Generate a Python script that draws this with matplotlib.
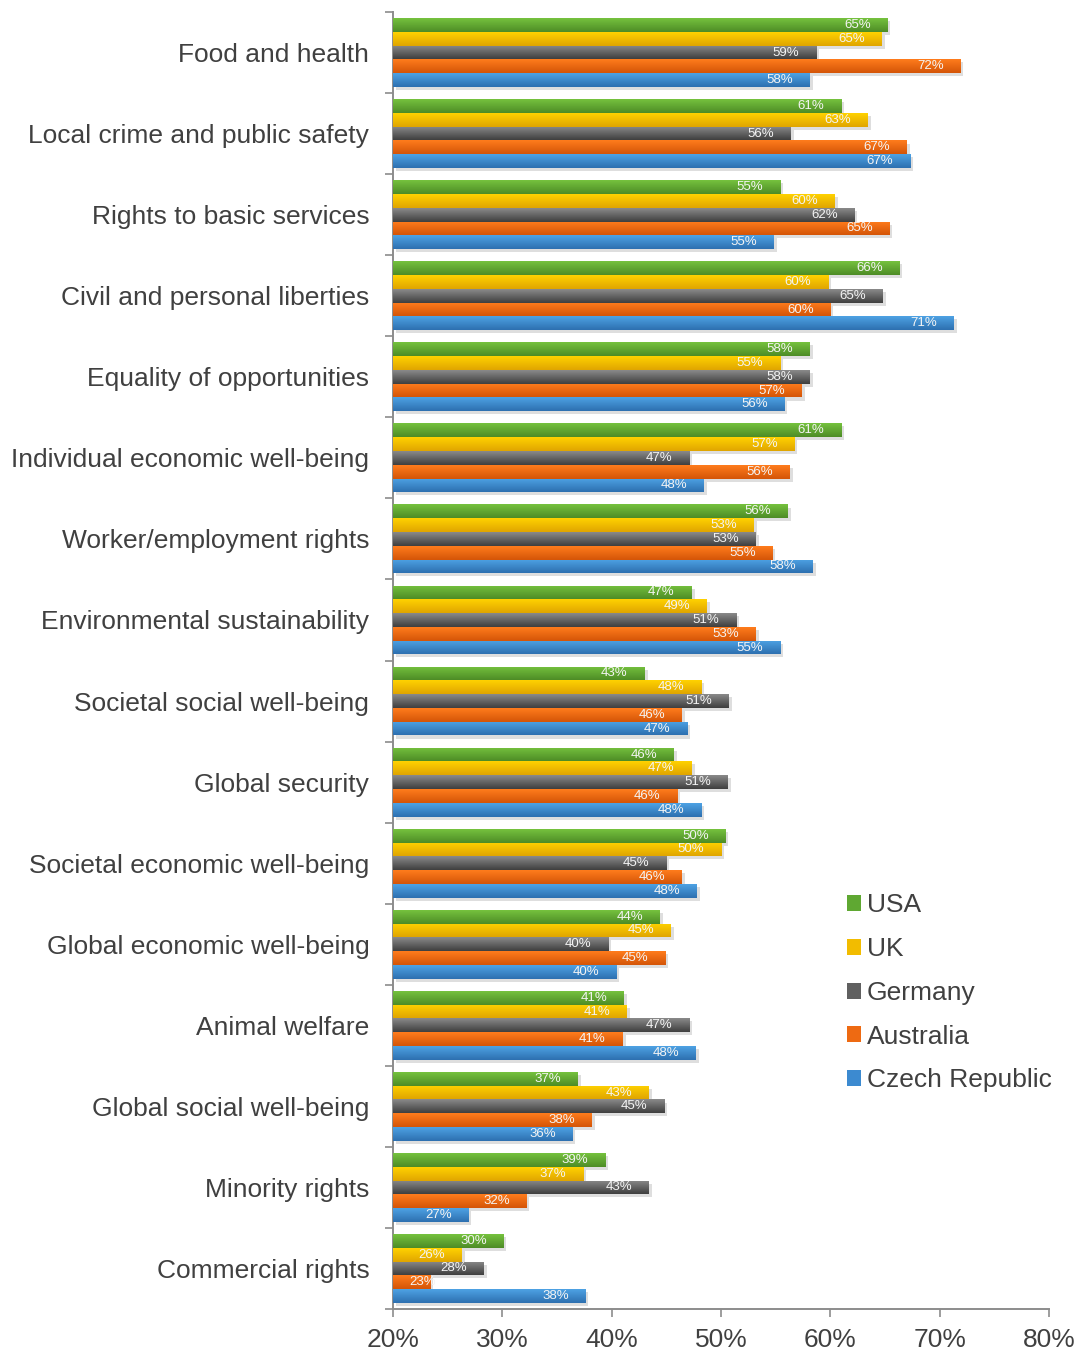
import numpy as np
import matplotlib
matplotlib.use("Agg")
import matplotlib.pyplot as plt
from matplotlib.colors import LinearSegmentedColormap
from matplotlib.patches import Patch
import matplotlib.patheffects as pe

plt.rcParams['font.family'] = ['Liberation Sans', 'DejaVu Sans']

categories = [
    "Food and health", "Local crime and public safety", "Rights to basic services",
    "Civil and personal liberties", "Equality of opportunities",
    "Individual economic well-being", "Worker/employment rights",
    "Environmental sustainability", "Societal social well-being", "Global security",
    "Societal economic well-being", "Global economic well-being", "Animal welfare",
    "Global social well-being", "Minority rights", "Commercial rights",
]
countries = ["USA", "UK", "Germany", "Australia", "Czech Republic"]

usa       = [65.2, 61.0, 55.4, 66.3, 58.1, 61.0, 56.1, 47.3, 43.0, 45.7, 50.4, 44.4, 41.1, 36.9, 39.4, 30.1]
uk        = [64.7, 63.4, 60.4, 59.8, 55.4, 56.7, 53.0, 48.7, 48.2, 47.3, 50.0, 45.4, 41.4, 43.4, 37.4, 26.3]
germany   = [58.7, 56.4, 62.2, 64.8, 58.1, 47.1, 53.2, 51.4, 50.7, 50.6, 45.0, 39.7, 47.1, 44.8, 43.4, 28.3]
australia = [71.9, 67.0, 65.4, 60.0, 57.4, 56.3, 54.7, 53.2, 46.4, 46.0, 46.4, 44.9, 41.0, 38.2, 32.2, 23.4]
czech     = [58.1, 67.3, 54.8, 71.3, 55.8, 48.4, 58.4, 55.4, 46.9, 48.2, 47.8, 40.4, 47.7, 36.4, 26.9, 37.6]
series = [usa, uk, germany, australia, czech]

# (top, bottom) gradient colours for each series
shades = [
    ("#76c23e", "#4d8c26"),
    ("#ffd200", "#e0a500"),
    ("#8a8a8a", "#3f3f3f"),
    ("#ff7c1c", "#d45508"),
    ("#4ea2e4", "#2d70b0"),
]
mid_colors = ["#5fa832", "#f2bc00", "#606060", "#ee6a12", "#3c8ad0"]

xticks = [20, 30, 40, 50, 60, 70, 80]
x_origin = 20
text_color = "#404040"
axis_color = "#8c8c8c"

fig = plt.figure(figsize=(10.82, 13.53), dpi=100)
ax = fig.add_axes([0.3632, 0.0325, 0.9695 - 0.3632, 0.99113 - 0.0325])

n_cat = len(categories)
y = np.arange(n_cat)
bar_h = 0.17
grad = np.linspace(0, 1, 64).reshape(-1, 1)

for i, (vals, (c_top, c_bot)) in enumerate(zip(series, shades)):
    ypos = y + (i - 2) * bar_h
    widths = [v - x_origin for v in vals]
    bars = ax.barh(ypos, widths, left=x_origin, height=bar_h, color=mid_colors[i],
                   linewidth=0, zorder=2)
    cmap = LinearSegmentedColormap.from_list(f"g{i}", [c_top, c_bot])
    for b, v, yy in zip(bars, vals, ypos):
        b.set_path_effects([pe.SimplePatchShadow(offset=(2.2, -2.2), shadow_rgbFace="#000000",
                                                 alpha=0.13), pe.Normal()])
        im = ax.imshow(grad, cmap=cmap, aspect="auto",
                       extent=(x_origin, v, yy + bar_h / 2, yy - bar_h / 2),
                       zorder=3, interpolation="bilinear")
        im.set_clip_path(b)
        if v - x_origin >= 5.5:
            ax.annotate(f"{v:.0f}%", xy=(v, yy), xytext=(-12, 0), textcoords="offset points",
                        ha="right", va="center", fontsize=9.5, color="#f4f4f4", zorder=4)
        else:
            # short bar: keep the label clear of the axis line
            ax.annotate(f"{v:.0f}%", xy=(x_origin, yy), xytext=(11.5, 0),
                        textcoords="offset points", ha="left", va="center",
                        fontsize=9.5, color="#f4f4f4", zorder=4)

ax.set_xlim(20, 80)
ax.set_ylim(n_cat - 0.5, -0.5)

ax.set_xticks(xticks)
ax.set_xticklabels([f"{t}%" for t in xticks])
ax.tick_params(axis="x", direction="out", length=6, width=1.2, color=axis_color,
               labelsize=19, labelcolor=text_color, pad=8)

ax.set_yticks(y)
ax.set_yticklabels(categories)
ax.tick_params(axis="y", which="major", length=0, labelsize=19, labelcolor=text_color, pad=17)
ax.set_yticks(np.arange(n_cat + 1) - 0.5, minor=True)
ax.tick_params(axis="y", which="minor", direction="out", length=5.5, width=1.2, color=axis_color)

for side in ("top", "right"):
    ax.spines[side].set_visible(False)
for side in ("left", "bottom"):
    ax.spines[side].set_color(axis_color)
    ax.spines[side].set_linewidth(1.4)

handles = [Patch(facecolor=c, edgecolor="none") for c in mid_colors]
leg = fig.legend(handles, countries, loc="upper left", bbox_to_anchor=(0.7705, 0.3495),
                 frameon=False, fontsize=19, handlelength=0.55, handleheight=0.55,
                 handletextpad=0.2, labelspacing=0.75, borderpad=0)
for t in leg.get_texts():
    t.set_color(text_color)

fig.savefig("out.png", dpi=100)
